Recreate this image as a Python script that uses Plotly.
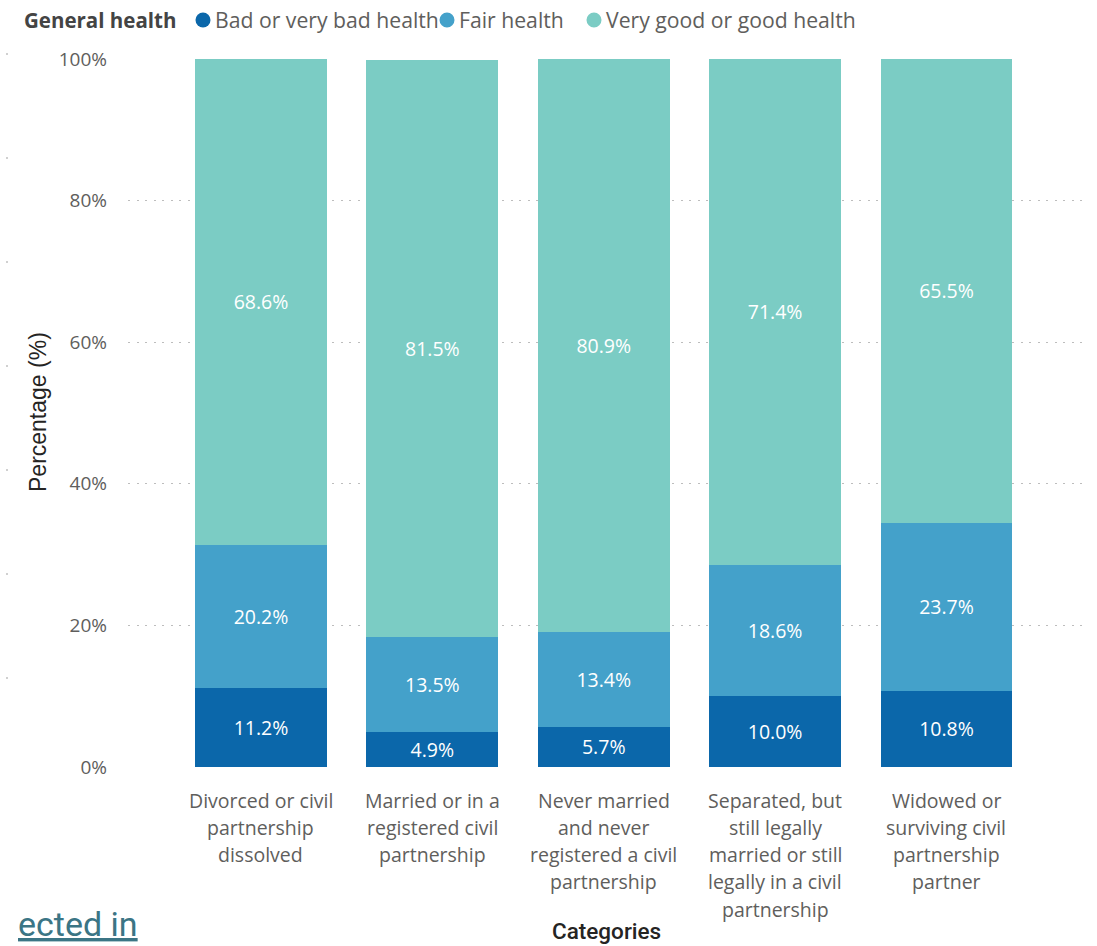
import plotly.graph_objects as go

# Marital status categories (x axis), each label split over several lines
categories = [
    "Divorced or civil<br>partnership<br>dissolved",
    "Married or in a<br>registered civil<br>partnership",
    "Never married<br>and never<br>registered a civil<br>partnership",
    "Separated, but<br>still legally<br>married or still<br>legally in a civil<br>partnership",
    "Widowed or<br>surviving civil<br>partnership<br>partner",
]

# General health shares (%) per category
bad_health = [11.2, 4.9, 5.7, 10.0, 10.8]
fair_health = [20.2, 13.5, 13.4, 18.6, 23.7]
good_health = [68.6, 81.5, 80.9, 71.4, 65.5]

series_names = ["Bad or very bad health", "Fair health", "Very good or good health"]
series_values = [bad_health, fair_health, good_health]
series_colors = ["#0B67AA", "#44A1CA", "#7BCCC4"]

y_ticks = [0, 20, 40, 60, 80, 100]
y_tick_labels = ["0%", "20%", "40%", "60%", "80%", "100%"]

W, H = 1097, 946
M_L, M_R, M_T, M_B = 128, 10, 59, 179
PLOT_W = W - M_L - M_R
PLOT_H = H - M_T - M_B

FONT = "Open Sans, Noto Sans, sans-serif"
GREY = "#605E5C"


def px_x(px):
    """Pixel column -> paper x."""
    return (px - M_L) / PLOT_W


def px_y(py):
    """Pixel row -> paper y."""
    return (H - M_B - py) / PLOT_H


fig = go.Figure()
x_idx = list(range(len(categories)))
for name, vals, col in zip(series_names, series_values, series_colors):
    fig.add_trace(go.Bar(
        x=x_idx, y=vals, name=name,
        marker=dict(color=col, line=dict(width=0)),
        text=[f"{v:.1f}%" for v in vals],
        textposition="inside", insidetextanchor="middle",
        textangle=0, constraintext="none",
        textfont=dict(family=FONT, size=19.5, color="#FFFFFF"),
        hoverinfo="skip", showlegend=False,
    ))

fig.update_layout(
    width=W, height=H,
    barmode="stack", bargap=0.23,
    margin=dict(l=M_L, r=M_R, t=M_T, b=M_B),
    paper_bgcolor="white", plot_bgcolor="white",
    font=dict(family=FONT, color=GREY),
    xaxis=dict(range=[-0.776, 4.82], showticklabels=False, showgrid=False,
               zeroline=False, showline=False, ticks=""),
    yaxis=dict(range=[0, 100], tickvals=y_ticks, ticktext=y_tick_labels,
               tickfont=dict(family=FONT, size=19, color=GREY),
               showgrid=True, gridcolor="#BDBDBD", gridwidth=1, griddash="2px,6.5px",
               zeroline=False, showline=False, ticks="", ticklabelstandoff=20),
)

# Category labels, one annotation per line for a looser line spacing
LINE_GAP = 27.3
for i, label in enumerate(categories):
    for j, line in enumerate(label.split("<br>")):
        fig.add_annotation(x=i, y=0, xref="x", yref="paper", text=line,
                           showarrow=False, xanchor="center", yanchor="middle",
                           yshift=-(33 + LINE_GAP * j),
                           font=dict(family=FONT, size=19.5, color=GREY))

# Axis titles
fig.add_annotation(x=px_x(38), y=px_y(412), xref="paper", yref="paper",
                   text="Percentage (%)", textangle=-90,
                   showarrow=False, xanchor="center", yanchor="middle",
                   font=dict(family="Liberation Sans, Arial, sans-serif", size=23, color="#252423"))
fig.add_annotation(x=px_x(606), y=px_y(946), xref="paper", yref="paper",
                   text="Categories",
                   showarrow=False, xanchor="center", yanchor="bottom",
                   font=dict(family="Roboto, sans-serif", size=22.5, color="#252423", weight=500))

# Legend row: title, then a coloured dot and name per series
fig.add_annotation(x=px_x(22), y=px_y(20), xref="paper", yref="paper",
                   text="<b>General health</b>", showarrow=False,
                   xanchor="left", yanchor="middle",
                   font=dict(family=FONT, size=20.5, color="#444444"))
legend_dot_px = [203, 447, 594]
for name, col, cx in zip(series_names, series_colors, legend_dot_px):
    fig.add_shape(type="circle", xref="paper", yref="paper",
                  xsizemode="pixel", ysizemode="pixel",
                  xanchor=px_x(cx), yanchor=px_y(20),
                  x0=-7.5, x1=7.5, y0=-7.5, y1=7.5,
                  fillcolor=col, line=dict(width=0))
    fig.add_annotation(x=px_x(cx + 10), y=px_y(20), xref="paper", yref="paper",
                       text=name, showarrow=False, xanchor="left", yanchor="middle",
                       font=dict(family=FONT, size=21.2, color=GREY))

# Truncated link text at the bottom-left edge
fig.add_annotation(x=px_x(140), y=px_y(946), xref="paper", yref="paper",
                   text="<u>ected in</u>",
                   showarrow=False, xanchor="right", yanchor="bottom",
                   font=dict(family="Roboto, sans-serif", size=34, color="#3B7585"))

# Faint dotted guide along the left edge
fig.add_shape(type="line", xref="paper", yref="paper",
              x0=px_x(7), x1=px_x(7), y0=px_y(53), y1=px_y(780),
              line=dict(color="#D0D0D0", width=2, dash="2px,102px"))

fig.write_html("out.html")
